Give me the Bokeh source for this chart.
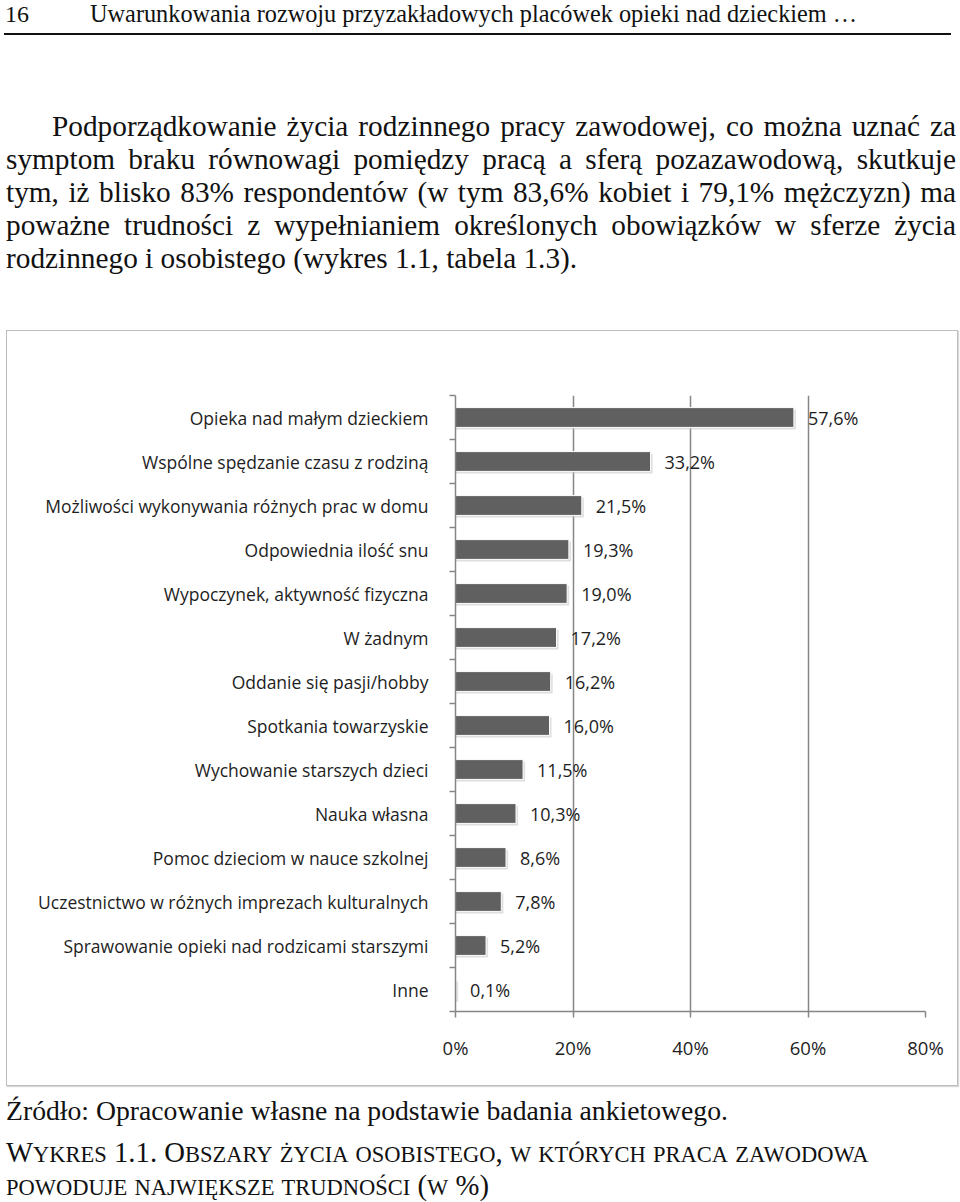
from bokeh.plotting import figure
from bokeh.models import Range1d, FixedTicker, Div, ColumnDataSource
from bokeh.layouts import column
from bokeh.core.properties import value
from bokeh.embed import file_html
from bokeh.resources import INLINE

# ---------------- data ----------------
categories = [
    "Opieka nad małym dzieckiem",
    "Wspólne spędzanie czasu z rodziną",
    "Możliwości wykonywania różnych prac w domu",
    "Odpowiednia ilość snu",
    "Wypoczynek, aktywność fizyczna",
    "W żadnym",
    "Oddanie się pasji/hobby",
    "Spotkania towarzyskie",
    "Wychowanie starszych dzieci",
    "Nauka własna",
    "Pomoc dzieciom w nauce szkolnej",
    "Uczestnictwo w różnych imprezach kulturalnych",
    "Sprawowanie opieki nad rodzicami starszymi",
    "Inne",
]
values = [57.6, 33.2, 21.5, 19.3, 19.0, 17.2, 16.2, 16.0, 11.5, 10.3, 8.6, 7.8, 5.2, 0.1]
x_ticks = [0, 20, 40, 60, 80]
x_tick_labels = ["0%", "20%", "40%", "60%", "80%"]

page_no = "16"
running_head = "Uwarunkowania rozwoju przyzakładowych placówek opieki nad dzieckiem …"
paragraph_lines = [
    "Podporządkowanie życia rodzinnego pracy zawodowej, co można uznać za",
    "symptom braku równowagi pomiędzy pracą a sferą pozazawodową, skutkuje",
    "tym, iż blisko 83% respondentów (w tym 83,6% kobiet i 79,1% mężczyzn) ma",
    "poważne trudności z wypełnianiem określonych obowiązków w sferze życia",
    "rodzinnego i osobistego (wykres 1.1, tabela 1.3).",
]
source_text = "Źródło: Opracowanie własne na podstawie badania ankietowego."
caption_lines = [
    "Wykres 1.1. Obszary życia osobistego, w których praca zawodowa",
    "powoduje największe trudności (w %)",
]


def small_caps(s, big, small):
    """Render text as small caps: lowercase letters become smaller capitals."""
    out, run, run_small = [], "", None
    for ch in s:
        is_small = ch.islower()
        if run_small is None or is_small == run_small:
            run += ch
        else:
            out.append((run, run_small))
            run = ch
        run_small = is_small
    if run:
        out.append((run, run_small))
    html = ""
    for txt, sm in out:
        size = small if sm else big
        html += f'<span style="font-size:{size}px;line-height:30px;">{txt.upper()}</span>'
    return html


# ---------------- page text (top) ----------------
para_html = ""
for i, line in enumerate(paragraph_lines):
    last = i == len(paragraph_lines) - 1
    align = "left" if last else "justify"
    indent = "text-indent:46px;" if i == 0 else ""
    para_html += (f'<div style="text-align:{align};text-align-last:{align};{indent}'
                  f'white-space:nowrap;">{line}</div>')

top_html = f"""
<div style="position:relative;width:960px;height:330px;font-family:'Liberation Serif',serif;color:#111;">
  <div style="position:absolute;left:5px;top:0px;font-size:24px;line-height:28px;">{page_no}</div>
  <div style="position:absolute;left:90px;top:0px;font-size:24.3px;line-height:28px;">{running_head}</div>
  <div style="position:absolute;left:4px;top:33px;width:947px;height:0;border-top:2.5px solid #111;"></div>
  <div style="position:absolute;left:6px;top:110px;width:950px;font-size:29.3px;line-height:33px;">
    {para_html}
  </div>
</div>"""
top_div = Div(text=top_html, width=960, height=330, margin=0)

# ---------------- chart ----------------
n = len(categories)
idx = list(range(n))
labels = [f"{v:.1f}".replace(".", ",") + "%" for v in values]
src = ColumnDataSource(dict(y=idx, v=values, lab=labels,
                            ys=[i + 0.05 for i in idx],
                            vs=[v + 0.35 for v in values]))

p = figure(width=952, height=756, output_backend="svg", toolbar_location=None,
           x_range=Range1d(0, 80), y_range=Range1d(n - 0.5, -0.5),
           min_border_left=448, min_border_right=34, min_border_top=64, min_border_bottom=76,
           margin=(0, 0, 0, 6))
p.styles = {"border": "1px solid #bdbdbd", "box-shadow": "1px 1px 1px #d8d8d8"}
p.outline_line_color = None
p.background_fill_color = "white"
p.border_fill_color = "white"

# shadow + bars
p.hbar(y="ys", left=0, right="vs", height=0.45, source=src,
       fill_color="#c9c9c9", fill_alpha=0.6, line_color=None)
p.hbar(y="y", left=0, right="v", height=0.45, source=src,
       fill_color="#606060", line_color="white", line_width=1)

p.text(x="v", y="y", text="lab", source=src, x_offset=14,
       text_baseline="middle", text_align="left",
       text_font=value("Open Sans"), text_font_size="18px", text_color="#1e1e1e")

# x axis
p.xaxis.ticker = FixedTicker(ticks=x_ticks)
p.xaxis.major_label_overrides = {t: l for t, l in zip(x_ticks, x_tick_labels)}
p.xaxis.major_label_text_font = "Open Sans"
p.xaxis.major_label_text_font_size = "18.5px"
p.xaxis.major_label_text_color = "#1e1e1e"
p.xaxis.major_tick_out = 6
p.xaxis.major_tick_in = 0
p.xaxis.minor_tick_line_color = None
p.xaxis.major_label_standoff = 17
p.xaxis.axis_line_color = "#868686"
p.xaxis.major_tick_line_color = "#868686"
p.xaxis.axis_line_width = 1.5
p.xaxis.major_tick_line_width = 1.5

p.xgrid.ticker = FixedTicker(ticks=x_ticks)
p.xgrid.grid_line_color = "#868686"
p.xgrid.grid_line_width = 1.5
p.ygrid.grid_line_color = None

# y axis
p.yaxis.ticker = FixedTicker(ticks=idx, minor_ticks=[i - 0.5 for i in range(n + 1)])
p.yaxis.major_label_overrides = {i: c for i, c in enumerate(categories)}
p.yaxis.major_label_text_font = "Open Sans"
p.yaxis.major_label_text_font_size = "17.5px"
p.yaxis.major_label_text_color = "#1e1e1e"
p.yaxis.major_tick_out = 0
p.yaxis.major_tick_in = 0
p.yaxis.minor_tick_out = 6
p.yaxis.minor_tick_in = 0
p.yaxis.minor_tick_line_color = "#868686"
p.yaxis.minor_tick_line_width = 1.5
p.yaxis.axis_line_color = "#868686"
p.yaxis.axis_line_width = 1.5
p.yaxis.major_label_standoff = 21

# ---------------- page text (bottom) ----------------
cap_tops = [51, 84]
cap_html = "".join(
    f'<div style="position:absolute;left:6px;top:{t}px;height:30px;line-height:30px;'
    f'white-space:nowrap;">{small_caps(l, 28.7, 22.5)}</div>'
    for l, t in zip(caption_lines, cap_tops))
bottom_html = f"""
<div style="position:relative;width:960px;height:116px;font-family:'Liberation Serif',serif;color:#111;">
  <div style="position:absolute;left:6px;top:10px;font-size:27.7px;line-height:30px;">{source_text}</div>
  {cap_html}
</div>"""
bottom_div = Div(text=bottom_html, width=960, height=116, margin=0)

layout = column(top_div, p, bottom_div, spacing=0, margin=0)
open("out.html", "w").write(file_html(layout, INLINE))
